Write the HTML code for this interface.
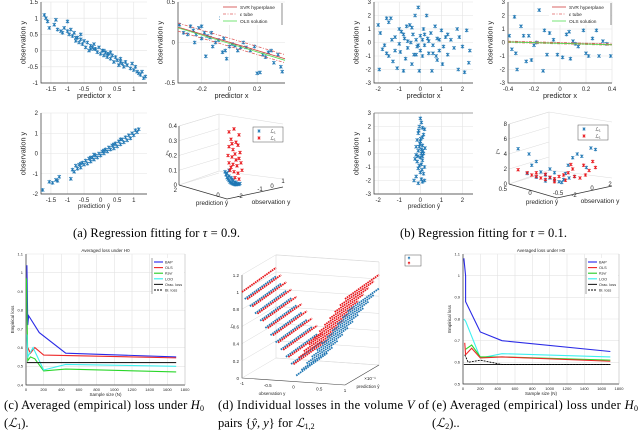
<!DOCTYPE html>
<html><head><meta charset="utf-8"><style>
html,body{margin:0;padding:0;background:#fff}
svg{display:block}
text{font-family:"Liberation Sans",sans-serif;fill:#262626}
.cap{font-family:"Liberation Serif",serif;font-size:12.5px;fill:#000}
</style></head><body>
<svg id="fig" width="640" height="430" viewBox="0 0 640 430" xmlns="http://www.w3.org/2000/svg">
<rect width="640" height="430" fill="#fff"/>
<g id="root"></g>
<text class="cap" x="73" y="237" textLength="167" lengthAdjust="spacing">(a) Regression fitting for <tspan font-style="italic">τ</tspan> = 0.9.</text>
<text class="cap" x="400" y="237" textLength="167" lengthAdjust="spacing">(b) Regression fitting for <tspan font-style="italic">τ</tspan> = 0.1.</text>
<text class="cap" x="4" y="409" textLength="200" lengthAdjust="spacing">(c) Averaged (empirical) loss under <tspan font-style="italic">H</tspan><tspan font-size="8" dy="2">0</tspan></text>
<text class="cap" x="4" y="427">(<tspan font-style="italic">ℒ</tspan><tspan font-size="8" dy="2">1</tspan><tspan dy="-2">).</tspan></text>
<text class="cap" x="218" y="409" textLength="211" lengthAdjust="spacing">(d) Individual losses in the volume <tspan font-style="italic">V</tspan> of</text>
<text class="cap" x="218" y="427">pairs {<tspan font-style="italic">ŷ, y</tspan>} for <tspan font-style="italic">ℒ</tspan><tspan font-size="8" dy="2">1,2</tspan></text>
<text class="cap" x="432" y="409" textLength="206" lengthAdjust="spacing">(e) Averaged (empirical) loss under <tspan font-style="italic">H</tspan><tspan font-size="8" dy="2">0</tspan></text>
<text class="cap" x="432" y="427">(<tspan font-style="italic">ℒ</tspan><tspan font-size="8" dy="2">2</tspan><tspan dy="-2">)..</tspan></text>
</svg>
<script>
// ---------- data ----------
const a1Points=[[-1.7,1.1],[-1.65,1.0],[-1.6,0.9],[-1.55,0.7],[-1.4,0.8],[-1.35,0.95],[-1.3,0.65],[-1.2,0.6],[-1.15,0.55],[-1.1,0.7],[-1.0,0.9],[-1.0,0.6],[-0.95,0.5],[-0.9,0.65],[-0.85,0.45],[-0.8,0.55],[-0.75,0.3],[-0.7,0.4],[-0.65,0.25],[-0.6,0.35],[-0.55,0.2],[-0.5,0.3],[-0.45,0.1],[-0.4,0.25],[-0.35,0.0],[-0.3,0.15],[-0.25,0.1],[-0.2,0.2],[-0.15,0.05],[-0.1,-0.05],[-0.05,0.1],[0,-0.1],[0.05,0.0],[0.1,-0.15],[0.15,-0.05],[0.2,-0.2],[0.25,-0.1],[0.3,-0.25],[0.35,-0.15],[0.4,-0.35],[0.45,-0.2],[0.5,-0.3],[0.55,-0.45],[0.6,-0.25],[0.65,-0.4],[0.7,-0.5],[0.75,-0.35],[0.8,-0.45],[0.9,-0.55],[0.95,-0.4],[1.0,-0.6],[1.05,-0.5],[1.1,-0.65],[1.15,-0.7],[1.2,-0.75],[1.25,-0.65],[1.3,-0.85],[1.35,-0.8],[-0.3,0.05],[0.2,-0.1],[-0.6,0.5],[0.3,-0.05],[-0.2,0.05],[0.1,0.0],[-0.75,0.4],[0.6,-0.35]];
const a2Points=[[-0.36,0.22],[-0.33,0.12],[-0.3,0.1],[-0.28,0.2],[-0.26,0.15],[-0.25,0.0],[-0.24,0.1],[-0.22,0.18],[-0.2,0.05],[-0.2,0.2],[-0.18,0.12],[-0.17,-0.17],[-0.16,0.08],[-0.14,0.06],[-0.13,0.12],[-0.12,-0.05],[-0.1,0.0],[-0.08,0.03],[-0.06,0.3],[-0.05,-0.12],[-0.04,0.05],[-0.03,-0.1],[-0.02,-0.2],[0,-0.05],[0.02,-0.02],[0.04,-0.04],[0.06,-0.1],[0.08,-0.06],[0.1,0.0],[0.12,-0.06],[0.15,-0.1],[0.18,-0.05],[0.2,-0.38],[0.22,-0.37],[0.24,-0.15],[0.26,-0.18],[0.28,-0.12],[0.3,-0.1],[0.32,-0.25],[0.35,-0.15],[0.37,-0.3],[0.38,-0.36]];
const a2Fit=[[-0.37,0.19],[0.4,-0.2]];
const a2Tube=0.05;
const a3Points=[[-1.75,-1.8],[-1.55,-1.4],[-1.45,-1.45],[-1.35,-1.3],[-1.3,-1.35],[-1.25,-1.15],[-0.9,-1.25],[-0.85,-0.8],[-0.8,-0.9],[-0.75,-0.6],[-0.7,-0.75],[-0.65,-0.55],[-0.6,-0.7],[-0.55,-0.45],[-0.5,-0.55],[-0.45,-0.35],[-0.4,-0.5],[-0.35,-0.25],[-0.3,-0.4],[-0.25,-0.2],[-0.2,-0.3],[-0.15,-0.1],[-0.1,-0.2],[-0.05,0.0],[0,-0.1],[0.05,0.1],[0.1,0.0],[0.15,0.2],[0.2,0.1],[0.25,0.3],[0.3,0.2],[0.35,0.4],[0.4,0.25],[0.45,0.5],[0.5,0.35],[0.55,0.6],[0.6,0.45],[0.65,0.7],[0.7,0.55],[0.75,0.8],[0.8,0.65],[0.85,0.9],[0.9,0.75],[0.95,1.0],[1.0,0.9],[1.05,1.15],[1.1,1.05],[1.15,1.2],[-0.2,-0.05],[0.1,0.15],[0.4,0.45],[-0.6,-0.5],[0.6,0.7],[-0.3,-0.2]];
const a4Blue=[[0.46,0.09],[0.47,0.07],[0.48,0.05],[0.49,0.04],[0.5,0.03],[0.51,0.02],[0.52,0.015],[0.53,0.01],[0.54,0.008],[0.55,0.005],[0.56,0.003],[0.57,0.002],[0.58,0.01],[0.5,0.06],[0.52,0.05],[0.54,0.03],[0.56,0.02],[0.59,0.006],[0.6,0.004],[0.61,0.01],[0.48,0.08],[0.5,0.1],[0.53,0.04],[0.57,0.015]];
const a4Red=[[0.5,0.36],[0.55,0.38],[0.6,0.34],[0.52,0.31],[0.57,0.29],[0.5,0.26],[0.54,0.24],[0.59,0.27],[0.49,0.2],[0.53,0.19],[0.56,0.21],[0.6,0.18],[0.5,0.15],[0.54,0.14],[0.58,0.13],[0.62,0.15],[0.51,0.1],[0.55,0.09],[0.59,0.08],[0.63,0.1],[0.56,0.05],[0.6,0.04],[0.52,0.12],[0.57,0.17],[0.61,0.22],[0.53,0.28]];
const b1Points=[[-2,1.3],[-1.95,-2.0],[-1.9,0.7],[-1.8,-0.5],[-1.7,-0.2],[-1.6,1.8],[-1.5,1.5],[-1.5,-1.0],[-1.4,1.8],[-1.35,0.2],[-1.3,-1.4],[-1.2,0.4],[-1.1,-1.9],[-1.0,1.0],[-0.95,-0.7],[-0.9,0.8],[-0.8,-2.1],[-0.75,0.3],[-0.7,-1.2],[-0.65,1.2],[-0.6,-0.4],[-0.5,1.3],[-0.45,0.0],[-0.4,-1.6],[-0.35,0.6],[-0.3,-0.9],[-0.25,2.0],[-0.2,0.2],[-0.15,-0.3],[-0.1,2.6],[-0.05,-2.1],[0,0.5],[0.1,-1.0],[0.15,1.0],[0.2,-0.2],[0.3,2.0],[0.35,0.3],[0.4,-0.8],[0.5,0.7],[0.55,-2.1],[0.6,-0.2],[0.7,1.2],[0.75,-1.0],[0.8,0.3],[0.9,-0.6],[1.0,0.9],[1.05,-1.6],[1.1,-0.3],[1.2,0.4],[1.3,-0.9],[1.45,0.2],[1.6,-0.4],[1.75,1.0],[1.8,-2.0],[1.85,0.4],[2.0,-0.3],[2.1,-2.2],[2.2,0.9],[2.35,-0.6],[2.3,-1.5],[-0.6,0.1],[0.2,0.6],[-1.0,-0.1],[0.4,0.1],[-0.2,-0.9],[0.9,0.2],[-1.2,-0.6],[-0.8,0.6],[0.0,-0.6],[0.6,-0.8],[1.3,0.6],[-0.4,1.1],[0.1,0.2],[-1.6,-0.8],[0.8,-1.3],[-0.1,-0.2]];
const b2Points=[[-0.39,0.5],[-0.37,-0.5],[-0.35,1.9],[-0.34,-0.8],[-0.33,-2.0],[-0.3,1.2],[-0.28,0.5],[-0.26,-1.4],[-0.24,0.5],[-0.22,-1.3],[-0.2,-0.2],[-0.16,2.4],[-0.13,-2.1],[-0.12,0.9],[-0.1,-0.9],[-0.08,0.7],[-0.05,0.2],[-0.02,-0.9],[0.02,-1.1],[0.05,0.6],[0.08,-1.2],[0.1,0.1],[0.14,-0.3],[0.18,0.9],[0.2,-0.8],[0.22,-1.0],[0.25,0.3],[0.28,0.9],[0.3,-1.0],[0.33,0.1],[0.36,-0.1],[0.39,-1.0],[0.07,0.8],[-0.18,0.0],[0.12,-0.1]];
const b2Fit=[[-0.4,0.05],[0.4,-0.15]];
const b2Tube=0.05;
const b3Points=[[0.0,2.6],[0.05,2.3],[-0.05,2.0],[0.1,1.9],[0.2,1.8],[-0.1,1.5],[0.1,1.2],[0.15,1.4],[-0.15,1.0],[0.0,0.9],[0.1,0.6],[-0.2,0.5],[0.05,0.3],[-0.1,0.2],[0.15,0.0],[-0.2,-0.1],[0.0,-0.3],[0.1,-0.5],[-0.15,-0.6],[0.05,-0.8],[0.2,-1.0],[-0.1,-1.1],[0.0,-1.4],[0.15,-1.5],[-0.2,-1.7],[0.05,-1.9],[-0.3,-2.0],[0.2,-2.0],[-0.1,-2.2],[0.1,-2.1],[-0.05,0.5],[0.12,0.2],[-0.12,-0.2],[0.02,1.1],[0.08,-1.2],[-0.08,1.7],[0.22,0.4],[-0.25,-0.4],[-0.05,-0.9],[0.05,0.0],[-0.02,0.7],[0.1,-0.2]];
const b4Blue=[[0.1,4.7],[0.22,4.0],[0.25,2.5],[0.3,3.0],[0.35,1.6],[0.4,1.2],[0.45,0.8],[0.5,0.5],[0.55,0.3],[0.6,0.6],[0.62,1.4],[0.65,2.5],[0.7,3.5],[0.72,1.0],[0.75,4.0],[0.8,3.7],[0.85,2.2],[0.9,4.8],[0.95,4.6],[0.5,1.5],[0.4,0.4],[0.58,0.2],[0.66,0.8],[0.3,0.9],[0.2,1.4],[0.45,2.0]];
const b4Red=[[0.1,1.9],[0.2,1.5],[0.25,1.2],[0.3,1.0],[0.35,0.8],[0.4,0.6],[0.45,0.9],[0.5,0.7],[0.55,1.0],[0.6,1.2],[0.65,1.5],[0.7,2.0],[0.72,1.0],[0.78,0.8],[0.82,2.5],[0.88,1.8],[0.92,3.0],[0.95,2.2],[0.5,0.3],[0.62,0.5],[0.3,1.5],[0.68,2.6],[0.84,1.2],[0.4,1.3]];
// panel (c)
const cN={bap:[10,20,30,150,450,1700],ols:[20,50,100,200,1700],ksvr:[5,20,50,100,200,450,1700],loo:[10,20,80,200,450,1700]};
const cBAP=[1.04,0.72,0.77,0.68,0.57,0.55];
const cOLS=[0.6,0.57,0.6,0.56,0.545];
const cKSVR=[0.97,0.53,0.55,0.54,0.475,0.485,0.47];
const cLOO=[0.67,0.55,0.6,0.48,0.51,0.5];
const cOracle=0.52;
// panel (e)
const eN={bap:[10,30,30,200,450,1700],ols:[20,30,100,200,450,1700],ksvr:[30,100,200,450,1700],loo:[10,30,100,200,450,1700],bl:[20,60,200,450,1700]};
const eBAP=[1.08,1.0,0.88,0.74,0.70,0.65];
const eOLS=[0.69,0.635,0.665,0.62,0.625,0.605];
const eKSVR=[0.66,0.68,0.625,0.625,0.61];
const eLOO=[0.80,0.79,0.72,0.62,0.64,0.625];
const eBL=[0.635,0.60,0.61,0.59,0.59];
const eOracle=0.59;
const sampleTicks=[0,200,400,600,800,1000,1200,1400,1600,1800];
// panel (d)
const dObs=[-1,-0.9,-0.8,-0.7,-0.6,-0.5,-0.4,-0.3,-0.2,-0.1,0,0.1,0.2,0.3,0.4,0.5,0.6,0.7,0.8,0.9,1];
const dRed=[1.0,0.92,0.84,0.76,0.68,0.6,0.52,0.44,0.36,0.28,0.2,0.28,0.36,0.44,0.52,0.6,0.68,0.76,0.84,0.92,1.0];
const dBlue=[0.9,0.82,0.74,0.66,0.58,0.5,0.42,0.34,0.26,0.18,0.05,0.12,0.2,0.28,0.36,0.44,0.52,0.6,0.68,0.76,0.84];

// ---------- helpers ----------
const NS='http://www.w3.org/2000/svg';
const root=document.getElementById('root');
function el(tag,attrs,parent){const e=document.createElementNS(NS,tag);for(const k in attrs)e.setAttribute(k,attrs[k]);(parent||root).appendChild(e);return e;}
function txt(x,y,s,size,anchor,parent,rot){const t=el('text',{x:x,y:y,'font-size':size,'text-anchor':anchor||'middle'},parent);if(rot)t.setAttribute('transform','rotate(-90 '+x+' '+y+')');t.textContent=s;


return t;}
function lin(d0,d1,r0,r1){return v=>r0+(v-d0)/(d1-d0)*(r1-r0);}
function axes(name,b,xd,yd,xt,yt,xl,yl,fs){
 const g=el('g',{});
 
 
 const X=lin(xd[0],xd[1],b[0],b[2]),Y=lin(yd[0],yd[1],b[3],b[1]);
 el('rect',{x:b[0],y:b[1],width:b[2]-b[0],height:b[3]-b[1],fill:'#fff',stroke:'none'},g);
 xt.forEach(v=>{el('line',{x1:X(v),x2:X(v),y1:b[1],y2:b[3],stroke:'#e3e3e3','stroke-width':0.6},g);txt(X(v),b[3]+fs+2,String(v),fs,'middle',g);});
 yt.forEach(v=>{el('line',{x1:b[0],x2:b[2],y1:Y(v),y2:Y(v),stroke:'#e3e3e3','stroke-width':0.6},g);txt(b[0]-3,Y(v)+fs*0.35,String(v),fs,'end',g);});
 el('path',{d:`M${b[0]},${b[1]}V${b[3]}H${b[2]}`,fill:'none',stroke:'#333','stroke-width':0.7},g);
 if(xl)txt((b[0]+b[2])/2,b[3]+fs*2+3,xl,fs+1.3,'middle',g);
 if(yl)txt(b[0]-fs*2.6,(b[1]+b[3])/2,yl,fs+1.3,'middle',g,true);
 return {X,Y,g};
}
function star(g,x,y,c,r){el('path',{d:`M${x-r},${y-r}L${x+r},${y+r}M${x-r},${y+r}L${x+r},${y-r}M${x},${y-r*1.2}V${y+r*1.2}`,stroke:c,'stroke-width':0.8,fill:'none'},g);}
function scatter(ax,pts,c,name){const g=el('g',{},ax.g);
 
 
 pts.forEach(p=>star(g,ax.X(p[0]),ax.Y(p[1]),c,1.6));}
const BLUE='#1f77b4',RED='#e8161b';

// ---- a1
let A=axes('panel-a1',[41,2,147,83],[-1.8,1.4],[-1,1.5],[-1.5,-1,-0.5,0,0.5,1],[-1,-0.5,0,0.5,1,1.5],'predictor x','observation y',6);
scatter(A,a1Points,BLUE,'a1-points');
// ---- a2
function svr(ax,fit,tube,legX,legY){
 const X=ax.X,Y=ax.Y;
 el('line',{x1:X(fit[0][0]),y1:Y(fit[0][1]+tube),x2:X(fit[1][0]),y2:Y(fit[1][1]+tube),stroke:'#e06060','stroke-width':0.8,'stroke-dasharray':'3,1.5,1,1.5'},ax.g);
 el('line',{x1:X(fit[0][0]),y1:Y(fit[0][1]-tube),x2:X(fit[1][0]),y2:Y(fit[1][1]-tube),stroke:'#e06060','stroke-width':0.8,'stroke-dasharray':'3,1.5,1,1.5'},ax.g);
 el('line',{x1:X(fit[0][0]),y1:Y(fit[0][1]),x2:X(fit[1][0]),y2:Y(fit[1][1]),stroke:'#d04040','stroke-width':0.8},ax.g);
 el('line',{x1:X(fit[0][0]),y1:Y(fit[0][1]-0.01),x2:X(fit[1][0]),y2:Y(fit[1][1]-0.02),stroke:'#55dd55','stroke-width':0.8},ax.g);
 const lg=el('g',{},ax.g);
 
 
 el('rect',{x:legX,y:legY,width:62,height:22,fill:'#fff',stroke:'none'},lg);
 el('line',{x1:legX+62,y1:legY,x2:legX+62,y2:legY+22,stroke:'#444','stroke-width':0.6},lg);
 [['SVR hyperplane','#d04040',''],['ε tube','#e06060','3,1.5,1,1.5'],['OLS solution','#55dd55','']].forEach((r,i)=>{
  el('line',{x1:legX+3,x2:legX+17,y1:legY+4+i*7,y2:legY+4+i*7,stroke:r[1],'stroke-width':0.8,'stroke-dasharray':r[2]||'none'},lg);
  txt(legX+20,legY+6+i*7,r[0],4.8,'start',lg);});
}
A=axes('panel-a2',[178,2,285,83],[-0.37,0.4],[-0.5,0.5],[-0.2,0,0.2],[-0.5,0,0.5],'predictor x','observation y',6);
scatter(A,a2Points,BLUE,'a2-points');svr(A,a2Fit,a2Tube,220,3);
// ---- a3
A=axes('panel-a3',[41,113,147,194],[-1.8,1.4],[-2,2],[-1.5,-1,-0.5,0,0.5,1],[-2,-1,0,1,2],'','observation y',6);
txt(94,208,'prediction ŷ',6.3,'middle',A.g).setAttribute('font-family','Liberation Serif');
scatter(A,a3Points,BLUE,'a3-points');
// ---- b1..b3
A=axes('panel-b1',[374,2,473,83],[-2.2,2.5],[-3,3],[-2,-1,0,1,2],[-3,-2,-1,0,1,2,3],'predictor x','observation y',6);
scatter(A,b1Points,BLUE,'b1-points');
A=axes('panel-b2',[508,2,612,83],[-0.4,0.4],[-3,3],[-0.4,-0.2,0,0.2,0.4],[-3,-2,-1,0,1,2,3],'predictor x','observation y',6);
scatter(A,b2Points,BLUE,'b2-points');svr(A,b2Fit,b2Tube,549,3);
A=axes('panel-b3',[374,113,473,194],[-2.2,2.5],[-3,3],[-2,-1,0,1,2],[-3,-2,-1,0,1,2,3],'','observation y',6);
el('line',{x1:374,x2:473,y1:113,y2:113,stroke:'#888','stroke-width':0.8},A.g);
txt(424,208,'prediction ŷ',6.3,'middle',A.g).setAttribute('font-family','Liberation Serif');
scatter(A,b3Points,BLUE,'b3-points');

// ---- 3D scatter panels
function box3d(name,zx,ztop,zbot,zmax,zt,right,legX,legY,lblA,leftLbl){
 const g=el('g',{});
 
 
 const c='#dcdcdc';
 el('path',{d:`M${zx},${ztop}L${zx+40},${ztop-12}L${right},${ztop-2}M${zx+40},${ztop-12}V${zbot-14}L${zx},${zbot}M${zx+40},${zbot-14}L${right},${zbot-6}`,stroke:c,fill:'none','stroke-width':0.6},g);
 const Z=lin(0,zmax,zbot,ztop);
 zt.forEach(v=>{el('line',{x1:zx,x2:zx+40,y1:Z(v),y2:Z(v)-12,stroke:c,'stroke-width':0.5},g);txt(zx-2,Z(v)+2,String(v),6,'end',g);});
 el('line',{x1:zx,x2:zx,y1:ztop,y2:zbot,stroke:'#333','stroke-width':0.7},g);
 el('path',{d:`M${zx},${zbot}L${zx+48},${zbot+14}L${right},${zbot+2}`,stroke:'#333',fill:'none','stroke-width':0.7},g);
 txt(zx-11,(ztop+zbot)/2,'ℒ',6.5,'middle',g);
 txt(zx+33,zbot+20,'prediction ŷ',6.3,'middle',g).setAttribute('font-family','Liberation Serif');
 txt(right-12,zbot+19,'observation y',6.5,'middle',g);
 txt(zx-2,zbot+7,leftLbl,6,'end',g);
 lblA.forEach(p=>txt(p[0],p[1],p[2],6,'middle',g));
 el('rect',{x:legX,y:legY,width:30,height:15,fill:'#fff',stroke:'#555','stroke-width':0.5},g);
 star(g,legX+6,legY+4,BLUE,1.3);star(g,legX+6,legY+11,RED,1.3);
 txt(legX+20,legY+6,'ℒ₁',5,'middle',g);txt(legX+20,legY+13,'ℒ₁',5,'middle',g);
 return {g,Z};
}
let B=box3d('panel-a4',179,126,185,0.4,[0,0.1,0.2,0.3,0.4],283,253,127,[[218,197,'0'],[240,198,'-2'],[260,191,'-1'],[272,188,'0'],[283,183,'1']],'2');
let U=lin(0,1,179,279);
[['a4-blue',a4Blue,BLUE],['a4-red',a4Red,RED]].forEach(s=>{const g=el('g',{},B.g);
 
 
 s[1].forEach(p=>star(g,U(p[0]),B.Z(p[1]),s[2],1.5));});
B=box3d('panel-b4',509,124,184,8,[0,2,4,6,8],612,578,125,[[530,195,'0'],[558,195,'-0.5'],[574,197,'-2'],[592,190,'0'],[610,186,'2']],'0.5');
U=lin(0,1,509,600);
[['b4-blue',b4Blue,BLUE],['b4-red',b4Red,RED]].forEach(s=>{const g=el('g',{},B.g);
 
 
 s[1].forEach(p=>star(g,U(p[0]),B.Z(p[1]),s[2],1.5));});

// ---- loss curves (c),(e)
function lossPanel(name,b,yd,yt,title,series,oracle,bl){
 const ax=axes(name,b,[0,1800],yd,sampleTicks,yt,'',null,4);
 txt((b[0]+b[2])/2,b[3]+11,'Sample size (N)',4.5,'middle',ax.g);
 txt(b[0]-12,(b[1]+b[3])/2,'Empirical loss',4.5,'middle',ax.g,true);
 txt((b[0]+b[2])/2,b[1]-2,title,4.5,'middle',ax.g);
 el('line',{x1:b[2],x2:b[2],y1:b[1],y2:b[3],stroke:'#bbb','stroke-width':0.5},ax.g);
 series.forEach(s=>{const p=el('polyline',{points:s.n.map((n,i)=>ax.X(n)+','+ax.Y(s.v[i])).join(' '),fill:'none',stroke:s.c,'stroke-width':1.1},ax.g);
  
  });
 const o=el('line',{x1:ax.X(10),x2:ax.X(1700),y1:ax.Y(oracle),y2:ax.Y(oracle),stroke:'#222','stroke-width':1.1},ax.g);
 
 
 if(bl){const p=el('polyline',{points:bl.n.map((n,i)=>ax.X(n)+','+ax.Y(bl.v[i])).join(' '),fill:'none',stroke:'#000','stroke-width':0.9,'stroke-dasharray':'2,1'},ax.g);
  
  }
 const lx=b[2]-33,ly=b[1]+4;
 const lg=el('g',{},ax.g);
 
 
 el('rect',{x:lx,y:ly,width:32,height:36,fill:'#fff',stroke:'none'},lg);
 el('line',{x1:lx,x2:lx,y1:ly,y2:ly+36,stroke:'#444','stroke-width':0.5},lg);
 [['BAP','#2222ee'],['OLS','#ee2222'],['Ksvr','#22cc22'],['LOO','#33eeee'],['Orac. loss','#222'],['Bl. loss','#000']].forEach((r,i)=>{
  el('line',{x1:lx+2,x2:lx+11,y1:ly+4+i*5.6,y2:ly+4+i*5.6,stroke:r[1],'stroke-width':1.1,'stroke-dasharray':i==5?'2,1':'none'},lg);
  txt(lx+13,ly+5.5+i*5.6,r[0],3.8,'start',lg);});
}
lossPanel('panel-c',[26,254,185,385],[0.4,1.1],[0.4,0.5,0.6,0.7,0.8,0.9,1,1.1],'Averaged loss under H0',[
 {name:'bap-line',n:cN.bap,v:cBAP,c:'#2a2ae6'},{name:'ols-line',n:cN.ols,v:cOLS,c:'#ee2a2a'},
 {name:'ksvr-line',n:cN.ksvr,v:cKSVR,c:'#2ad62a'},{name:'loo-line',n:cN.loo,v:cLOO,c:'#3ef0f0'}],cOracle,null);
lossPanel('panel-e',[463,254,619,384],[0.5,1.1],[0.5,0.6,0.7,0.8,0.9,1,1.1],'Averaged loss under H0',[
 {name:'bap-line',n:eN.bap,v:eBAP,c:'#2a2ae6'},{name:'loo-line',n:eN.loo,v:eLOO,c:'#3ef0f0'},
 {name:'ksvr-line',n:eN.ksvr,v:eKSVR,c:'#2ad62a'},{name:'ols-line',n:eN.ols,v:eOLS,c:'#ee2a2a'}],eOracle,{n:eN.bl,v:eBL});

// ---- panel (d) 3D loss volume
(function(){
 const g=el('g',{});
 
 
 const OX=lin(-1,1,242,345);
 const zs=86, dx=34, dy=-20;
 const P=(o,t,z)=>[OX(o)+t*dx, 378+(o+1)*3.5+t*dy - z*zs];
 const gc='#dadada';
 const H=103;
 const c0=P(-1,0,0),c1=P(1,0,0),c2=P(1,1,0),c3=P(-1,1,0);
 el('path',{d:`M${c3[0]},${c3[1]}V${c3[1]-H}M${c3[0]},${c3[1]}L${c2[0]},${c2[1]}V${c2[1]-H}M${c3[0]},${c3[1]-H}L${c2[0]},${c2[1]-H}`,stroke:gc,fill:'none','stroke-width':0.6},g);
 [0,0.2,0.4,0.6,0.8,1,1.2].forEach(v=>{const a=P(-1,0,v),b=P(-1,1,v),d=P(1,1,v);
  el('path',{d:`M${a[0]},${a[1]}L${b[0]},${b[1]}L${d[0]},${d[1]}`,stroke:gc,fill:'none','stroke-width':0.5},g);
  txt(a[0]-3,a[1]+2,String(v),4.5,'end',g);});
 el('path',{d:`M${c0[0]},${c0[1]-H}V${c0[1]}L${c1[0]},${c1[1]}L${c2[0]},${c2[1]}`,stroke:'#444',fill:'none','stroke-width':0.6},g);
 [[-1,'-1'],[-0.5,'-0.5'],[0,'0'],[0.5,'0.5'],[1,'1']].forEach(t=>{const p=P(t[0],0,0);txt(p[0],p[1]+7,t[1],4.5,'middle',g);});
 txt(272,395,'observation y',4.5,'middle',g);txt(368,388,'prediction ŷ',4.5,'middle',g);txt(370,380,'×10⁻¹',4.5,'middle',g);
 txt(c0[0]-10,c0[1]-50,'ℒ',5,'middle',g);
 dObs.forEach((o,i)=>{
  [[dBlue[i],BLUE,0.08],[dRed[i],RED,0]].forEach(s=>{
   const a=P(o,0+s[2],s[0]),b=P(o,1,s[0]+0.05);
   const ln=el('line',{x1:a[0],y1:a[1],x2:b[0],y2:b[1],stroke:s[1],'stroke-width':1.8,'stroke-dasharray':'1.6,0.7'},g);
   
   
  });
 });
 el('rect',{x:405,y:255,width:16,height:11,fill:'#fff',stroke:'#555','stroke-width':0.5},g);
 star(g,409,258,BLUE,1);star(g,409,263,RED,1);
})();
</script>
</body></html>
